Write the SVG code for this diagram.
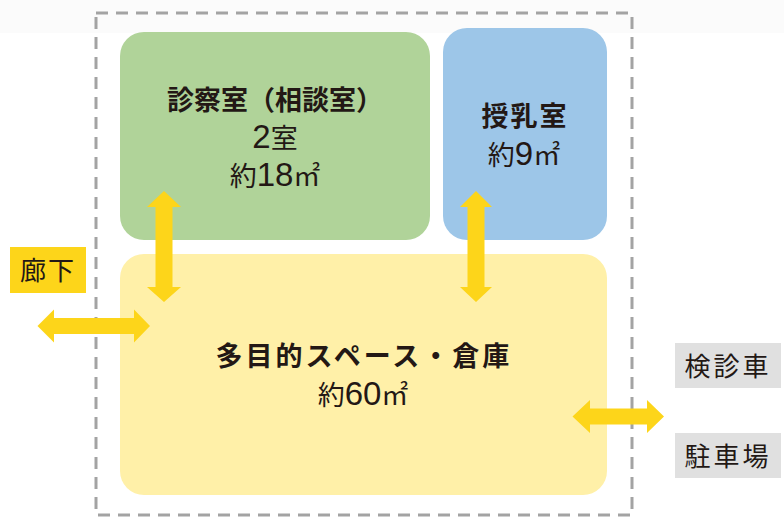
<svg xmlns="http://www.w3.org/2000/svg" width="784" height="518" viewBox="0 0 784 518">
<style>
text{font-family:"Noto Sans CJK JP","Noto Sans",sans-serif;fill:#231815;text-anchor:middle}
.t{font-size:27px;font-weight:700}
.n{font-size:27px;font-weight:400}
.d{font-size:33px;font-family:"Liberation Sans",sans-serif}
.l{font-size:26px;font-weight:400}
.arrow{fill:#fdd51a}
</style>
<rect x="0" y="0" width="784" height="518" fill="#ffffff"/>
<rect x="0" y="0" width="784" height="33" fill="#fbfbfb"/>
<rect x="96" y="13" width="536" height="502" fill="none" stroke="#a3a3a3" stroke-width="3" stroke-dasharray="12 8"/>
<g id="shinsatsu">
<rect x="120" y="32" width="310" height="208" rx="24" fill="#b0d399"/>
<text class="t" x="275" y="110">診察室（相談室）</text>
<text class="n" x="275" y="148"><tspan class="d">2</tspan>室</text>
<text class="n" x="275" y="186">約<tspan class="d">18</tspan>㎡</text>
</g>
<g id="junyu">
<rect x="443" y="28" width="164" height="212" rx="24" fill="#9dc6e8"/>
<text class="t" x="525" y="126" letter-spacing="2">授乳室</text>
<text class="n" x="524" y="165">約<tspan class="d">9</tspan>㎡</text>
</g>
<g id="tamokuteki">
<rect x="120" y="254" width="487" height="241" rx="24" fill="#fff0a8"/>
<text class="t" x="364" y="366" letter-spacing="3">多目的スペース・倉庫</text>
<text class="n" x="363" y="405">約<tspan class="d">60</tspan>㎡</text>
</g>
<g id="rouka">
<rect x="10" y="247" width="76" height="46" fill="#fdd51a"/>
<text class="l" x="48" y="280" letter-spacing="2">廊下</text>
</g>
<g id="kenshinsha">
<rect x="675" y="343" width="106" height="45" fill="#e0e0e0"/>
<text class="l" x="728" y="376" letter-spacing="3">検診車</text>
</g>
<g id="chushajo">
<rect x="675" y="433" width="106" height="45" fill="#e0e0e0"/>
<text class="l" x="728" y="466" letter-spacing="3">駐車場</text>
</g>
<g id="connectors">
<polygon class="arrow" points="164,191 181,207 172.5,207 172.5,287 181,287 164,302 147,287 155.5,287 155.5,207 147,207"/>
<polygon class="arrow" points="476,191 492,207 484.5,207 484.5,287 492,287 476,302 460,287 467.5,287 467.5,207 460,207"/>
<polygon class="arrow" points="37.5,326 54,309.5 54,318 134,318 134,309.5 150,326 134,342.5 134,334 54,334 54,342.5"/>
<polygon class="arrow" points="572.5,416.5 590,400 590,408.5 647,408.5 647,400 664,416.5 647,433 647,424.5 590,424.5 590,433"/>
</g>
</svg>
